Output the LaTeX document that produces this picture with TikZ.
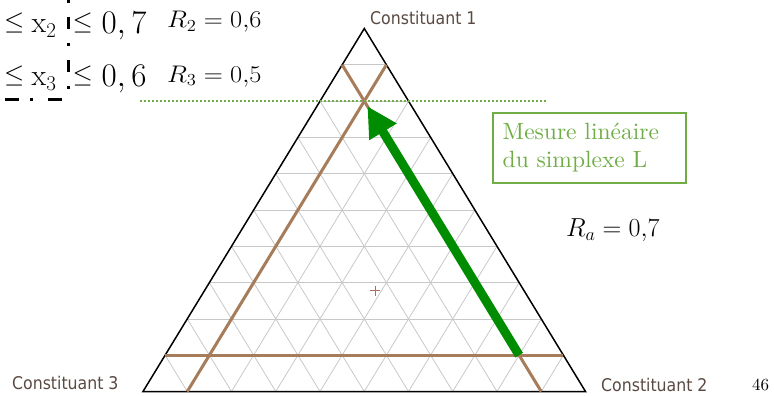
\RequirePackage{fix-cm}
\documentclass[tikz,border=0pt]{standalone}
\usepackage{fontspec}
\newfontfamily\labfont{DejaVu Sans Condensed}
\newfontfamily\boxfont{lmroman10-regular.otf}
\usetikzlibrary{calc,arrows.meta}
\definecolor{gridgray}{RGB}{200,200,200}
\definecolor{tribrown}{RGB}{166,124,90}
\definecolor{boxgreen}{RGB}{112,173,71}
\definecolor{arrgreen}{RGB}{0,140,0}
\definecolor{labcol}{RGB}{89,74,66}
\definecolor{pluscol}{RGB}{176,110,90}
\begin{document}
\begin{tikzpicture}[x=1pt,y=-1pt,
  gridline/.style={draw=gridgray,line width=0.8pt},
  edge/.style={draw=black,line width=1.5pt,line join=miter},
  limitline/.style={draw=tribrown,line width=3pt},
  guide/.style={draw=boxgreen,line width=1.5pt,dash pattern=on 2pt off 2pt},
  bigarrow/.style={draw=arrgreen,line width=9pt,-{Triangle[length=30pt,width=30pt]},shorten >=6pt},
  label/.style={anchor=base west,inner sep=0pt,text=labcol,font=\labfont\fontsize{17.5}{20}\selectfont},
  relmath/.style={anchor=base west,inner sep=0pt,font=\fontsize{26}{30}\selectfont},
  varmath/.style={anchor=base west,inner sep=0pt,font=\fontsize{30}{33}\selectfont},
  nummath/.style={anchor=base west,inner sep=0pt,font=\fontsize{33}{36}\selectfont},
  midmath/.style={anchor=base west,inner sep=0pt,font=\fontsize{24}{28}\selectfont},
  ramath/.style={anchor=base west,inner sep=0pt,font=\fontsize{26}{30}\selectfont},
  selbox/.style={draw=black,line width=3pt}
]
\useasboundingbox (0,0) rectangle (774,396);
\coordinate (A) at (364.3,28.5);
\coordinate (B) at (143,391.5);
\coordinate (C) at (585.5,391.5);
% grid
\foreach \i in {1,...,9}{
  \pgfmathsetmacro\t{\i/10}
  \draw[gridline] ($(B)!\t!(A)$) -- ($(C)!\t!(A)$);
  \draw[gridline] ($(B)!\t!(C)$) -- ($(A)!\t!(C)$);
  \draw[gridline] ($(B)!\t!(C)$) -- ($(B)!\t!(A)$);
}
% triangle
\draw[edge] (A) -- (B) -- (C) -- cycle;
% limit lines
\coordinate (H1) at ($(B)!0.1!(A)$);
\coordinate (H2) at ($(C)!0.1!(A)$);
\coordinate (L1) at ($(B)!0.9!(A)$);
\coordinate (L2) at ($(B)!0.9!(C)$);
\coordinate (R1) at ($(C)!0.9!(A)$);
\coordinate (R2) at ($(B)!0.1!(C)$);
\draw[limitline] (H1) -- (H2);
\draw[limitline] (L1) -- (L2);
\draw[limitline] (R1) -- (R2);
\coordinate (S) at ($(L2)+0.1*(A)-0.1*(C)$);
\coordinate (X) at ($(L2)+0.8*(A)-0.8*(C)$);
% dotted guide
\coordinate (g1) at (140,0);
\coordinate (g2) at (547,0);
\draw[guide] (X -| g1) -- (X -| g2);
% arrow
\draw[bigarrow] (S) -- (X);
% centre mark
\coordinate (ctr) at (375,290.5);
\draw[draw=pluscol,line width=0.8pt] ([xshift=-5pt]ctr) -- ([xshift=5pt]ctr) ([yshift=-5pt]ctr) -- ([yshift=5pt]ctr);
% box
\node[draw=boxgreen,line width=1.8pt,minimum width=193pt,minimum height=70pt,text width=173pt,
      inner xsep=10pt,align=left,text=boxgreen,font=\boxfont\fontsize{23.5}{28.3}\selectfont] (box) at (589.2,147.7)
      {Mesure linéaire\\du simplexe L};
\node[ramath] (ra) at (566,236.7) {$R_a = 0{,}7$};
% labels
\node[label] (c1) at (370,24.5) {Constituant 1};
\node[label] (c2) at (601,391.5) {Constituant 2};
\node[label] (c3) at (12,389) {Constituant 3};
\node[anchor=base west,inner sep=0pt,font=\boxfont\fontsize{17}{20}\selectfont] (pg) at (752,390.5) {46};
% top-left formulas, line 1
\node[relmath] (f1a) at (4,29.5) {$\leq$};
\node[varmath] (f1b) at (31.5,33) {$\mathrm{x}_2$};
\node[relmath] (f1c) at (72.5,29.5) {$\leq$};
\node[nummath] (f1d) at (101.5,33.5) {$0,7$};
% line 2
\node[relmath] (f2a) at (4,82) {$\leq$};
\node[varmath] (f2b) at (31.5,85.5) {$\mathrm{x}_3$};
\node[relmath] (f2c) at (72.5,82) {$\leq$};
\node[nummath] (f2d) at (101.5,86) {$0,6$};
\node[midmath] (r2) at (167,27.5) {\scalebox{1.1}[1]{$R_2 = 0{,}6$}};
\node[midmath] (r3) at (167,82) {\scalebox{1.1}[1]{$R_3 = 0{,}5$}};
% selection frame remnants
\coordinate (fc) at (68,99);
\coordinate (ft) at (68,0);
\coordinate (fl) at (0,99);
\draw[selbox,dash pattern=on 3pt off 14pt on 12pt off 14pt,dash phase=33pt] (fc) -- (ft);
\draw[selbox,dash pattern=on 14pt off 15pt on 3pt off 11pt,dash phase=37pt] (fc) -- (fl);
\end{tikzpicture}
\end{document}
